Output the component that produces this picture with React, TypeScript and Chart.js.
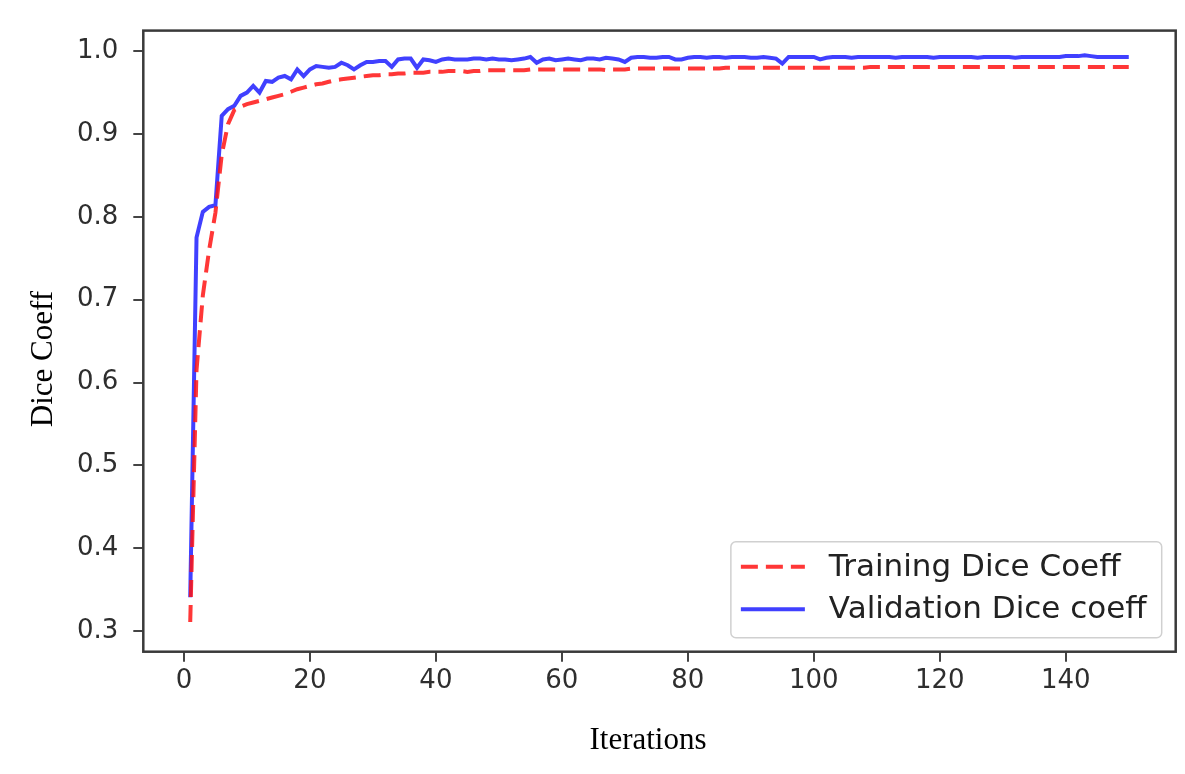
import { useEffect, useRef } from 'react'
import Chart from 'chart.js/auto'
import type { ChartConfiguration, Plugin } from 'chart.js'

// epochs 1..150 (x categories)
const iterations = Array.from({ length: 150 }, (_, i) => i + 1)

const trainingDice = [
  0.311, 0.615, 0.705, 0.760, 0.805, 0.875, 0.912, 0.929, 0.933, 0.936,
  0.938, 0.940, 0.942, 0.944, 0.946, 0.948, 0.951, 0.954, 0.956, 0.958,
  0.960, 0.961, 0.963, 0.965, 0.966, 0.967, 0.968, 0.969, 0.970, 0.971,
  0.971, 0.972, 0.972, 0.973, 0.973, 0.974, 0.974, 0.974, 0.975, 0.975,
  0.975, 0.976, 0.976, 0.976, 0.975, 0.976, 0.976, 0.977, 0.977, 0.977,
  0.977, 0.977, 0.977, 0.977, 0.978, 0.978, 0.978, 0.978, 0.978, 0.978,
  0.978, 0.978, 0.978, 0.978, 0.978, 0.978, 0.977, 0.978, 0.978, 0.978,
  0.979, 0.979, 0.979, 0.979, 0.979, 0.979, 0.979, 0.979, 0.979, 0.979,
  0.979, 0.979, 0.979, 0.979, 0.979, 0.980, 0.980, 0.980, 0.980, 0.980,
  0.980, 0.980, 0.980, 0.980, 0.980, 0.980, 0.980, 0.980, 0.980, 0.980,
  0.980, 0.980, 0.980, 0.980, 0.980, 0.980, 0.980, 0.980, 0.981, 0.981,
  0.981, 0.981, 0.981, 0.981, 0.981, 0.981, 0.981, 0.981, 0.981, 0.981,
  0.981, 0.981, 0.981, 0.981, 0.981, 0.981, 0.981, 0.981, 0.981, 0.981,
  0.981, 0.981, 0.981, 0.981, 0.981, 0.981, 0.981, 0.981, 0.981, 0.981,
  0.981, 0.981, 0.981, 0.981, 0.981, 0.981, 0.981, 0.981, 0.981, 0.981,
]

const validationDice = [
  0.341, 0.775, 0.806, 0.812, 0.814, 0.922, 0.930, 0.934, 0.946, 0.950,
  0.958, 0.950, 0.964, 0.963, 0.968, 0.970, 0.966, 0.978, 0.970, 0.978,
  0.982, 0.981, 0.980, 0.981, 0.986, 0.983, 0.978, 0.983, 0.987, 0.987,
  0.988, 0.988, 0.981, 0.990, 0.991, 0.991, 0.980, 0.990, 0.989, 0.987,
  0.990, 0.991, 0.990, 0.990, 0.990, 0.991, 0.991, 0.990, 0.991, 0.990,
  0.990, 0.989, 0.990, 0.991, 0.993, 0.986, 0.990, 0.991, 0.989, 0.990,
  0.991, 0.990, 0.989, 0.991, 0.991, 0.990, 0.992, 0.991, 0.990, 0.987,
  0.992, 0.993, 0.993, 0.992, 0.992, 0.993, 0.993, 0.990, 0.990, 0.992,
  0.993, 0.993, 0.992, 0.993, 0.993, 0.992, 0.993, 0.993, 0.993, 0.992,
  0.992, 0.993, 0.992, 0.991, 0.985, 0.993, 0.993, 0.993, 0.993, 0.993,
  0.990, 0.992, 0.993, 0.993, 0.993, 0.992, 0.993, 0.993, 0.993, 0.993,
  0.993, 0.993, 0.992, 0.993, 0.993, 0.993, 0.993, 0.993, 0.992, 0.993,
  0.993, 0.993, 0.993, 0.993, 0.993, 0.992, 0.993, 0.993, 0.993, 0.993,
  0.993, 0.992, 0.993, 0.993, 0.993, 0.993, 0.993, 0.993, 0.993, 0.994,
  0.994, 0.994, 0.995, 0.994, 0.993, 0.993, 0.993, 0.993, 0.993, 0.993,
]

const xTicks = [0, 20, 40, 60, 80, 100, 120, 140]
const yTicks = [0.3, 0.4, 0.5, 0.6, 0.7, 0.8, 0.9, 1.0]

const TICK_FONT = { family: '"DejaVu Sans"', size: 26 }
const TITLE_FONT = '31px "Liberation Serif"'
const LEGEND_FONT = '31px "DejaVu Sans"'

// frame on all four sides, like matplotlib's spines
const framePlugin: Plugin<'line'> = {
  id: 'frame',
  afterDatasetsDraw(chart) {
    const { ctx, chartArea: a } = chart
    ctx.save()
    ctx.strokeStyle = '#3a3a3a'
    ctx.lineWidth = 2.5
    ctx.strokeRect(a.left, a.top, a.right - a.left, a.bottom - a.top)
    ctx.restore()
  },
}

// axis titles placed where the figure has them
const titlesPlugin: Plugin<'line'> = {
  id: 'axisTitles',
  afterDraw(chart) {
    const { ctx } = chart
    ctx.save()
    ctx.fillStyle = '#000'
    ctx.font = TITLE_FONT
    ctx.textAlign = 'center'
    ctx.textBaseline = 'middle'
    ctx.fillText('Iterations', 648, 741)
    ctx.translate(44, 359)
    ctx.rotate(-Math.PI / 2)
    ctx.fillText('Dice Coeff', 0, 0)
    ctx.restore()
  },
}

// matplotlib-style legend in the lower right of the plot area
const legendPlugin: Plugin<'line'> = {
  id: 'boxLegend',
  afterDraw(chart) {
    const { ctx, chartArea: a } = chart
    const sets = chart.data.datasets
    ctx.save()
    ctx.font = LEGEND_FONT
    const textW = Math.max(...sets.map((d) => ctx.measureText(String(d.label)).width))
    const padL = 10, handle = 64, gap = 24, padR = 15
    const w = padL + handle + gap + textW + padR
    const h = 96
    const right = a.right - 14
    const bottom = a.bottom - 14
    const left = right - w
    const top = bottom - h

    ctx.beginPath()
    ctx.roundRect(left, top, w, h, 5)
    ctx.fillStyle = 'rgba(255,255,255,0.85)'
    ctx.fill()
    ctx.strokeStyle = '#d0d0d0'
    ctx.lineWidth = 1.5
    ctx.stroke()

    sets.forEach((d: any, i) => {
      const y = top + 25 + i * 42.6
      ctx.beginPath()
      ctx.strokeStyle = d.borderColor
      ctx.lineWidth = d.borderWidth
      ctx.setLineDash(d.borderDash || [])
      ctx.moveTo(left + padL, y)
      ctx.lineTo(left + padL + handle, y)
      ctx.stroke()
      ctx.setLineDash([])
      ctx.fillStyle = '#222'
      ctx.textAlign = 'left'
      ctx.textBaseline = 'middle'
      ctx.fillText(String(d.label), left + padL + handle + gap, y + 1)
    })
    ctx.restore()
  },
}

export default function App() {
  const canvasRef = useRef<HTMLCanvasElement>(null)
  const chartRef = useRef<Chart | null>(null)

  useEffect(() => {
    if (!canvasRef.current) return
    const ctx = canvasRef.current.getContext('2d')
    if (!ctx) return

    if (chartRef.current) {
      chartRef.current.destroy()
    }

    const config: ChartConfiguration<'line'> = {
      type: 'line',
      data: {
        datasets: [
          {
            label: 'Training Dice Coeff',
            data: iterations.map((x, i) => ({ x, y: trainingDice[i] })),
            borderColor: 'rgba(255, 20, 20, 0.85)',
            borderWidth: 4,
            borderDash: [17, 8],
            pointRadius: 0,
            fill: false,
            tension: 0,
          },
          {
            label: 'Validation Dice coeff',
            data: iterations.map((x, i) => ({ x, y: validationDice[i] })),
            borderColor: 'rgba(30, 30, 255, 0.85)',
            borderWidth: 4,
            pointRadius: 0,
            fill: false,
            tension: 0,
          },
        ],
      },
      options: {
        responsive: true,
        maintainAspectRatio: false,
        animation: false,
        layout: { padding: { top: 26, right: 9.3, left: 0, bottom: 0 } },
        plugins: {
          legend: { display: false },
          tooltip: { enabled: false },
        },
        scales: {
          x: {
            type: 'linear',
            min: -6.45,
            max: 157.45,
            afterBuildTicks: (scale) => {
              scale.ticks = xTicks.map((value) => ({ value }))
            },
            afterFit: (scale) => {
              scale.height = 122.3
            },
            ticks: {
              font: TICK_FONT,
              color: '#2e2e2e',
              padding: 4,
              maxRotation: 0,
              autoSkip: false,
            },
            grid: {
              drawOnChartArea: false,
              drawTicks: true,
              tickLength: 10,
              tickColor: '#444',
              tickWidth: 2,
              lineWidth: 2,
            },
            border: { display: false },
          },
          y: {
            type: 'linear',
            min: 0.2752,
            max: 1.0248,
            afterBuildTicks: (scale) => {
              scale.ticks = yTicks.map((value) => ({ value }))
            },
            afterFit: (scale) => {
              scale.width = 143.3
            },
            ticks: {
              font: TICK_FONT,
              color: '#2e2e2e',
              padding: 15,
              autoSkip: false,
              callback: (v) => Number(v).toFixed(1),
            },
            grid: {
              drawOnChartArea: false,
              drawTicks: true,
              tickLength: 10,
              tickColor: '#444',
              tickWidth: 2,
              lineWidth: 2,
            },
            border: { display: false },
          },
        },
      },
      plugins: [framePlugin, titlesPlugin, legendPlugin],
    }

    chartRef.current = new Chart(ctx, config)

    return () => {
      if (chartRef.current) {
        chartRef.current.destroy()
        chartRef.current = null
      }
    }
  }, [])

  return (
    <div style={{ position: 'absolute', left: 0, top: 0, width: 1185, height: 774, background: '#fff' }}>
      <canvas ref={canvasRef} />
    </div>
  )
}
